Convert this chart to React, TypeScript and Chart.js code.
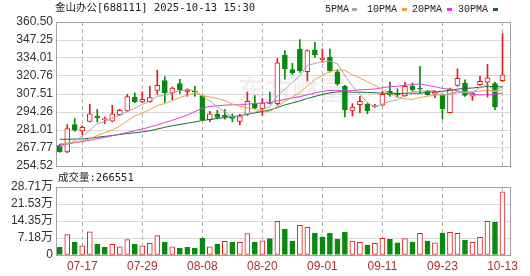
import React, { useEffect, useRef } from 'react';
import { Chart, registerables } from 'chart.js';

Chart.register(...registerables);

// ---------- data ----------
const stockName = '金山办公';
const stockCode = '688111';
const timeStamp = '2025-10-13 15:30';
const volumeTitle = '成交量';

const dates = [
  '07-14', '07-15', '07-16', '07-17', '07-18', '07-21', '07-22', '07-23', '07-24', '07-25',
  '07-28', '07-29', '07-30', '07-31', '08-01', '08-04', '08-05', '08-06', '08-07', '08-08',
  '08-11', '08-12', '08-13', '08-14', '08-15', '08-18', '08-19', '08-20', '08-21', '08-22',
  '08-25', '08-26', '08-27', '08-28', '08-29', '09-01', '09-02', '09-03', '09-04', '09-05',
  '09-08', '09-09', '09-10', '09-11', '09-12', '09-15', '09-16', '09-17', '09-18', '09-19',
  '09-22', '09-23', '09-24', '09-25', '09-26', '09-29', '09-30', '10-09', '10-10', '10-13',
];

const xTickDates = ['07-17', '07-29', '08-08', '08-20', '09-01', '09-11', '09-23', '10-13'];

const opens = [
  269.5, 264.8, 285.0, 280.3, 287.4, 291.1, 288.6, 287.6, 292.3, 295.0,
  305.1, 301.6, 301.9, 310.2, 317.3, 308.3, 315.1, 309.2, 309.7, 305.8,
  288.6, 292.6, 291.8, 290.8, 287.4, 292.6, 300.4, 296.7, 301.4, 300.4,
  336.0, 325.5, 340.6, 323.9, 340.1, 332.8, 334.5, 323.9, 313.4, 295.0,
  299.7, 299.9, 298.2, 299.2, 309.5, 307.8, 306.3, 313.1, 311.9, 309.5,
  307.5, 306.5, 293.8, 313.9, 315.5, 306.0, 314.4, 316.3, 315.1, 317.3,
];
const highs = [
  270.5, 285.0, 289.4, 284.2, 299.9, 296.2, 290.6, 299.2, 296.2, 307.3,
  308.3, 309.0, 313.2, 324.9, 320.3, 312.7, 318.3, 311.4, 313.2, 306.3,
  294.8, 295.5, 296.0, 292.8, 292.6, 309.0, 306.3, 304.1, 309.0, 333.7,
  339.5, 330.0, 347.5, 340.0, 345.5, 340.6, 340.6, 325.4, 313.9, 300.4,
  305.8, 300.6, 299.9, 309.5, 316.3, 311.4, 316.1, 315.6, 327.9, 310.2,
  309.2, 307.3, 311.9, 326.0, 318.0, 308.7, 320.5, 329.3, 316.3, 351.9,
];
const lows = [
  264.6, 264.3, 280.0, 277.6, 286.9, 286.9, 285.7, 286.9, 291.8, 294.5,
  301.1, 301.1, 301.4, 307.3, 301.4, 303.3, 307.8, 305.8, 305.8, 288.1,
  287.2, 289.4, 288.9, 286.9, 284.7, 291.6, 296.7, 291.8, 300.2, 299.4,
  318.5, 321.8, 323.4, 317.0, 334.5, 330.8, 323.5, 313.9, 290.6, 291.3,
  293.5, 293.0, 297.5, 298.7, 305.8, 305.3, 305.8, 309.5, 308.2, 306.5,
  304.8, 288.9, 293.5, 313.2, 305.8, 302.8, 313.9, 305.3, 296.0, 316.8,
];
const closes = [
  265.1, 282.0, 280.8, 283.0, 293.0, 289.9, 289.1, 293.0, 295.5, 305.6,
  301.6, 303.6, 304.8, 313.9, 308.3, 311.9, 310.7, 310.2, 309.0, 288.6,
  293.0, 290.3, 290.8, 289.6, 290.8, 302.1, 297.2, 300.9, 300.6, 330.5,
  326.0, 323.0, 324.7, 339.4, 336.2, 333.7, 324.7, 314.9, 296.0, 297.9,
  302.1, 295.0, 298.9, 307.3, 307.0, 306.8, 313.1, 310.7, 311.2, 307.0,
  308.7, 296.7, 311.4, 319.1, 306.4, 308.0, 316.8, 319.5, 297.9, 321.7,
];
const prevCloseBefore = 268.0;

const volumes = [
  32000, 86000, 53000, 39000, 98000, 45000, 32000, 45000, 35000, 65000,
  45000, 39000, 49000, 82000, 53000, 35000, 28000, 32000, 28000, 70000,
  35000, 45000, 58000, 53000, 53000, 90000, 53000, 60000, 69000, 142000,
  108000, 59000, 125000, 117000, 93000, 76000, 93000, 66000, 97000, 59000,
  53000, 42000, 49000, 70000, 66000, 51000, 69000, 55000, 91000, 59000,
  51000, 93000, 96000, 91000, 62000, 53000, 75000, 142000, 139000, 266551,
];

const ma5 = [
  268.5, 270.5, 273.0, 276.5, 280.8, 285.7, 287.2, 289.6, 292.1, 294.6,
  297.0, 299.9, 302.2, 305.9, 306.4, 308.5, 309.9, 311.0, 310.0, 306.1,
  302.3, 298.2, 294.3, 290.5, 290.9, 292.7, 294.1, 296.1, 298.3, 306.3,
  311.0, 316.2, 321.0, 328.7, 329.9, 331.4, 331.7, 329.8, 321.1, 313.4,
  307.1, 301.2, 298.0, 300.2, 302.1, 303.0, 306.6, 309.0, 309.8, 309.7,
  310.1, 306.9, 307.0, 308.6, 308.5, 308.4, 312.4, 314.0, 309.8, 312.9,
];
const ma10 = [
  271.0, 271.5, 272.0, 273.0, 274.5, 277.0, 279.0, 281.0, 284.0, 287.7,
  291.4, 293.5, 295.9, 299.0, 300.5, 302.7, 304.9, 306.6, 308.0, 306.3,
  305.4, 304.1, 302.7, 300.2, 298.5, 297.5, 296.2, 295.2, 294.4, 298.6,
  301.9, 305.2, 308.5, 313.5, 318.1, 321.2, 324.0, 325.4, 324.9, 321.7,
  319.3, 316.5, 313.9, 310.7, 307.8, 305.1, 303.9, 303.5, 305.0, 305.9,
  306.6, 306.8, 308.0, 309.2, 309.1, 309.2, 309.6, 310.5, 309.2, 310.6,
];
const ma20 = [
  270.0, 270.8, 271.6, 272.5, 273.5, 274.6, 275.6, 276.8, 278.0, 279.2,
  280.5, 281.7, 283.2, 284.8, 286.5, 288.2, 290.0, 292.0, 294.5, 297.0,
  298.4, 298.8, 299.3, 299.6, 299.5, 300.1, 300.5, 300.9, 301.2, 302.4,
  303.6, 304.6, 305.6, 306.9, 308.3, 309.4, 310.1, 310.3, 309.7, 310.1,
  310.6, 310.8, 311.2, 312.1, 312.9, 313.2, 314.0, 314.4, 315.0, 313.8,
  312.9, 311.6, 311.0, 309.9, 308.5, 307.2, 306.8, 307.0, 307.1, 308.3,
];
const ma30 = [
  274.2, 274.2, 274.3, 274.4, 275.0, 275.7, 276.3, 277.0, 277.7, 278.4,
  279.0, 279.6, 280.5, 281.7, 283.0, 284.2, 285.1, 286.0, 287.0, 288.0,
  288.8, 289.5, 290.2, 290.8, 291.6, 292.6, 293.6, 294.6, 295.8, 297.5,
  299.5, 300.9, 302.4, 304.3, 305.7, 307.2, 308.3, 309.1, 309.1, 308.8,
  308.9, 308.6, 308.4, 308.1, 308.1, 307.9, 308.0, 308.0, 308.1, 308.7,
  309.3, 309.5, 310.2, 311.1, 311.7, 311.9, 312.5, 313.1, 313.0, 312.7,
];

const maLabels = ['5PMA', '10PMA', '20PMA', '30PMA'];

const priceTicks = [254.52, 267.77, 281.01, 294.26, 307.51, 320.76, 334.01, 347.25, 360.5];
const priceTickLabels = ['254.52', '267.77', '281.01', '294.26', '307.51', '320.76', '334.01', '347.25', '360.50'];
const volTicks = [0, 71775, 143550, 215325, 287100];
const volTickLabels = ['0', '7.18万', '14.35万', '21.53万', '28.71万'];

// ---------- styles ----------
const UP = '#e21b1b';
const DOWN = '#098a0e';
const MA_COLORS = ['#a6a6a6', '#e8a43c', '#e23ce2', '#186b3c'];
const AXIS_FONT = { family: '"Liberation Sans", "Noto Sans CJK SC", sans-serif', size: 12 };
const MONO_FONT = '"DejaVu Sans Mono", "Noto Sans CJK SC", monospace';

const xTickIdx = xTickDates.map((d) => dates.indexOf(d));
const isUpCandle = closes.map((c, i) => c >= opens[i]);
const isUpVolume = closes.map((c, i) => c >= (i === 0 ? prevCloseBefore : closes[i - 1]));

// dashed vertical grid lines at the labelled dates (pixel dashes placed by the x scale)
const vGridPlugin = {
  id: 'vgridDash',
  beforeDatasetsDraw(chart: any) {
    const { ctx, chartArea: a } = chart;
    const sx = chart.scales.x;
    const top = Math.round(a.top);
    const bottom = Math.round(a.bottom);
    ctx.save();
    ctx.fillStyle = '#b2b2b2';
    for (let k = 0; k < xTickIdx.length; k++) {
      const px = Math.round(sx.getPixelForValue(xTickIdx[k]));
      for (let y = top; y < bottom; y += 7) {
        ctx.fillRect(px, y, 1, Math.min(4, bottom - y));
      }
    }
    ctx.restore();
  },
};

// frame around the plot area
const framePlugin = {
  id: 'frame',
  afterDraw(chart: any) {
    const { ctx, chartArea: a } = chart;
    ctx.save();
    ctx.strokeStyle = '#a3a3a3';
    ctx.lineWidth = 1;
    ctx.setLineDash([]);
    ctx.strokeRect(Math.round(a.left) + 0.5, Math.round(a.top) + 0.5, Math.round(a.right - a.left), Math.round(a.bottom - a.top));
    ctx.restore();
  },
};

function xScale(showLabels: boolean, axisHeight: number) {
  return {
    type: 'linear',
    min: -0.5,
    max: dates.length,
    bounds: 'data',
    offset: false,
    afterBuildTicks: (s: any) => {
      s.ticks = xTickIdx.map((v) => ({ value: v }));
    },
    afterFit: (s: any) => {
      s.height = axisHeight;
    },
    grid: { display: false, drawTicks: false },
    border: { display: false },
    ticks: {
      display: showLabels,
      autoSkip: false,
      maxRotation: 0,
      padding: 4,
      color: '#a83232',
      font: AXIS_FONT,
      callback: (v: number) => dates[v],
    },
  };
}

function yScale(min: number, max: number, ticks: number[], labels: string[]) {
  return {
    type: 'linear',
    position: 'left',
    min,
    max,
    bounds: 'data',
    afterBuildTicks: (s: any) => {
      s.ticks = ticks.map((v) => ({ value: v }));
    },
    afterFit: (s: any) => {
      s.width = 56;
    },
    grid: { color: '#d9d9d9', lineWidth: 1, drawTicks: false },
    border: { display: false },
    ticks: {
      autoSkip: false,
      padding: 3,
      color: '#333333',
      font: AXIS_FONT,
      callback: (_v: number, i: number) => labels[i],
    },
  };
}

const priceOverlay = {
  id: 'priceOverlay',
  beforeDatasetsDraw(chart: any) {
    const { ctx } = chart;
    ctx.save();
    ctx.fillStyle = 'rgba(120,120,120,0.10)';
    ctx.font = 'bold 27px "Noto Sans CJK SC", sans-serif';
    ctx.textBaseline = 'middle';
    ctx.fillText('东方财富', 238, 90);
    ctx.restore();
  },
  afterDraw(chart: any) {
    const { ctx } = chart;
    ctx.save();
    ctx.fillStyle = '#222222';
    ctx.textBaseline = 'middle';
    ctx.font = `10.5px ${MONO_FONT}`;
    ctx.fillText(`${stockName}[${stockCode}] ${timeStamp}`, 55, 8.5);
    const textX = [325, 367, 412, 458];
    const dashX = [352, 402, 447, 493];
    ctx.font = '10px "Liberation Mono", monospace';
    maLabels.forEach((lab, k) => {
      ctx.fillStyle = '#222222';
      ctx.fillText(lab, textX[k], 9);
      ctx.fillStyle = MA_COLORS[k];
      ctx.fillRect(dashX[k], 8, 5, 3);
    });
    ctx.restore();
  },
};

const volumeOverlay = {
  id: 'volumeOverlay',
  afterDraw(chart: any) {
    const { ctx } = chart;
    ctx.save();
    ctx.fillStyle = '#222222';
    ctx.textBaseline = 'middle';
    ctx.font = `10.5px ${MONO_FONT}`;
    ctx.fillText(`${volumeTitle}:${volumes[volumes.length - 1]}`, 58, 8.5);
    ctx.restore();
  },
};

function priceConfig(): any {
  const maSets = [ma5, ma10, ma20, ma30].map((arr, k) => ({
    type: 'line',
    label: maLabels[k],
    data: arr.map((v, i) => ({ x: i, y: v })),
    borderColor: MA_COLORS[k],
    borderWidth: 1,
    pointRadius: 0,
    tension: 0,
    fill: false,
    order: 0,
  }));
  return {
    type: 'bar',
    data: {
      datasets: [
        {
          label: 'wick',
          data: dates.map((_, i) => ({ x: i, y: [lows[i], highs[i]] })),
          backgroundColor: isUpCandle.map((u) => (u ? UP : DOWN)),
          borderWidth: 0,
          barThickness: 1,
          grouped: false,
          order: 3,
        },
        {
          label: 'body',
          data: dates.map((_, i) => ({ x: i, y: [opens[i], closes[i]] })),
          backgroundColor: isUpCandle.map((u) => (u ? '#ffffff' : DOWN)),
          borderColor: isUpCandle.map((u) => (u ? UP : DOWN)),
          borderWidth: 1,
          borderSkipped: false,
          barThickness: 5,
          minBarLength: 1,
          grouped: false,
          order: 2,
        },
        ...maSets,
      ],
    },
    options: {
      responsive: false,
      animation: false,
      events: [],
      devicePixelRatio: 1,
      layout: { padding: { top: 22, right: 20, bottom: 14, left: 0 } },
      plugins: { legend: { display: false }, tooltip: { enabled: false } },
      scales: {
        x: xScale(false, 0),
        y: yScale(priceTicks[0], priceTicks[priceTicks.length - 1], priceTicks, priceTickLabels),
      },
    },
    plugins: [vGridPlugin, priceOverlay, framePlugin],
  };
}

function volumeConfig(): any {
  return {
    type: 'bar',
    data: {
      datasets: [
        {
          label: volumeTitle,
          data: volumes.map((v, i) => ({ x: i, y: v })),
          backgroundColor: isUpVolume.map((u) => (u ? '#ffffff' : DOWN)),
          borderColor: isUpVolume.map((u) => (u ? UP : DOWN)),
          borderWidth: 1,
          borderSkipped: false,
          barThickness: 5,
          grouped: false,
        },
      ],
    },
    options: {
      responsive: false,
      animation: false,
      events: [],
      devicePixelRatio: 1,
      layout: { padding: { top: 17, right: 20, bottom: 0, left: 0 } },
      plugins: { legend: { display: false }, tooltip: { enabled: false } },
      scales: {
        x: xScale(true, 21),
        y: yScale(volTicks[0], volTicks[volTicks.length - 1], volTicks, volTickLabels),
      },
    },
    plugins: [vGridPlugin, volumeOverlay, framePlugin],
  };
}

export default function App() {
  const priceRef = useRef<HTMLCanvasElement>(null);
  const volRef = useRef<HTMLCanvasElement>(null);

  useEffect(() => {
    const charts: Chart[] = [];
    if (priceRef.current) charts.push(new Chart(priceRef.current, priceConfig()));
    if (volRef.current) charts.push(new Chart(volRef.current, volumeConfig()));
    return () => charts.forEach((c) => c.destroy());
  }, []);

  return (
    <div style={{ position: 'absolute', left: 0, top: 0, width: 530, height: 276, overflow: 'hidden' }}>
      <canvas ref={priceRef} width={530} height={180} style={{ position: 'absolute', left: 0, top: 0, width: 530, height: 180 }} />
      <canvas ref={volRef} width={530} height={106} style={{ position: 'absolute', left: 0, top: 170, width: 530, height: 106 }} />
    </div>
  );
}
